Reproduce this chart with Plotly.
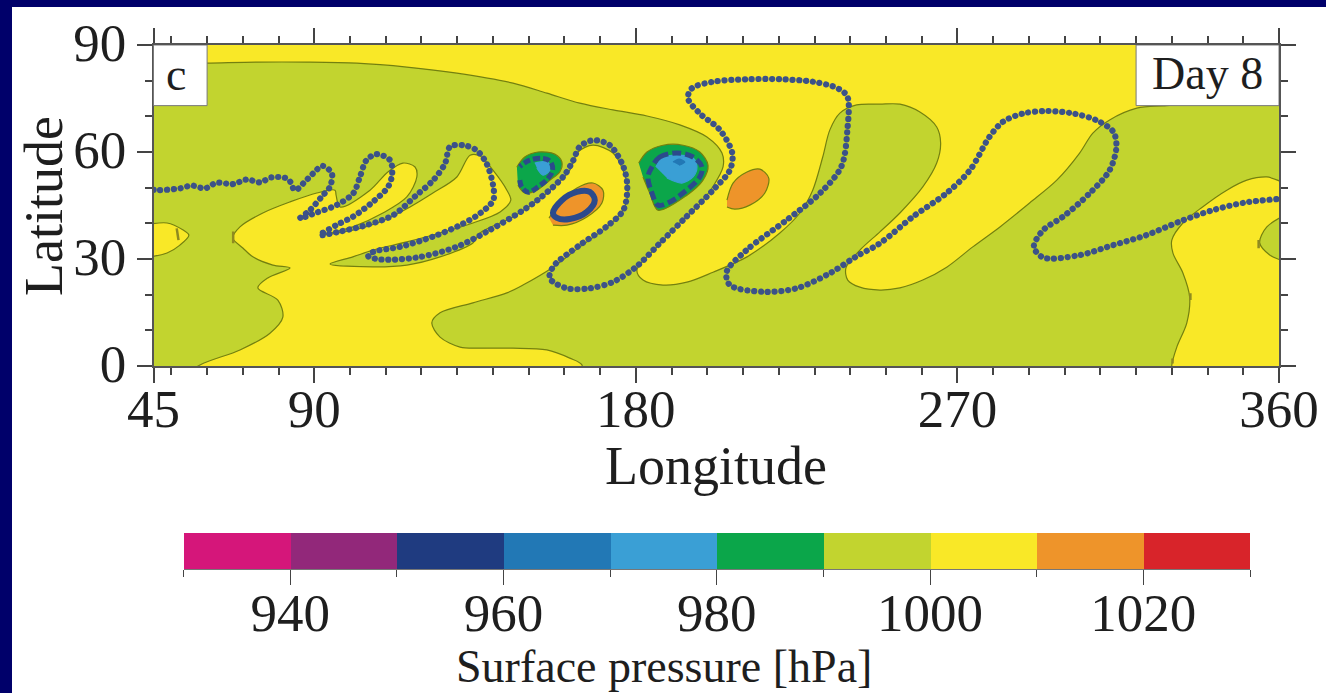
import plotly.graph_objects as go

FONT = "Liberation Serif"
INK = "#1e1e1e"
W, H = 1326, 693

# Surface pressure regions, (longitude, latitude)
green_lon = [40,60.0,74.0,87.9,101.9,115.9,129.9,145.6,155.1,164.3,173.6,183.1,192.3,199.9,204.1,204.4,201.5,197.1,192.3,185.9,180.3,182.0,187.6,194.3,201.6,211.1,220.3,225.9,229.5,232.3,234.3,237.1,241.8,248.3,253.9,259.5,264.2,265.3,264.2,260.3,253.9,248.3,242.7,238.8,239.3,242.7,248.3,253.9,260.3,267.0,274.3,281.9,290.2,297.8,304.2,307.9,312.6,320.2,327.5,365,365,356.6,351.0,345.4,338.6,333.1,330.0,330.3,333.1,335.0,334.2,331.4,330.0,330,165,164.9,161.5,155.1,145.6,136.4,130.8,125.2,122.9,125.2,134.4,143.9,148.4,156.8,164.3,171.9,176.4,177.8,176.4,173.6,168.0,163.8,161.5,155.1,145.6,136.4,134.4,125.2,115.9,106.4,94.4,100.8,106.4,115.9,125.2,134.4,142.0,145.0,143.9,140.0,136.4,133.6,129.9,123.2,116.8,108.4,100.8,92.1,100.8,109.2,115.9,118.7,118.2,114.8,110.6,105.6,97.2,96.1,95.8,90.7,83.2,75.6,69.2,67.2,70.0,72.8,78.4,83.2,77.0,74.2,79.8,81.2,77.6,69.2,58.0,50,40]
green_lat = [84.6,84.9,85.2,85.2,84.9,83.8,82.1,79.3,76.5,73.7,71.8,70.1,67.6,64.2,59.7,55.8,50.2,44.6,40.1,33.4,26.9,24.1,22.7,23.5,26.3,30.6,37.3,42.9,49.3,58.6,66.2,70.9,73.2,73.4,73.4,71.2,67.0,62.5,56.9,50.2,42.9,37.6,32.5,27.5,24.1,22.1,21.3,21.9,24.1,27.7,33.4,39.0,45.7,52.1,59.7,65.3,69.0,72.3,72.9,72.9,51,53.0,52.1,49.3,44.6,40.1,35.3,31.7,26.1,19.3,12.1,5.3,0.3,-5,-5,0.3,2.2,4.5,5.0,5.0,5.3,8.1,12.1,14.9,17.7,20.5,22.7,27.7,33.4,39.0,43.7,49.3,54.9,59.7,61.9,60.0,54.9,48.5,41.8,37.3,34.5,30.6,28.3,27.8,28.6,30.6,32.5,34.8,37.3,40.1,43.2,46.5,49.3,54.9,58.9,59.1,53.0,48.5,44.6,40.4,38.1,36.7,39.0,42.9,47.4,53.0,55.8,56.9,54.4,49.3,44.6,47.9,49.3,48.5,46.0,42.9,39.0,35.9,33.1,30.6,28.3,27.5,24.7,21.9,18.5,13.7,9.2,4.5,0.3,-5,-5]

green_isle_lon = [365,356.6,354.6,357.4,359.7,365]
green_isle_lat = [44,39.0,34.5,31.1,30.0,29]
yellow_isle_lon = [40,48.8,53.3,54.9,52.4,48.8,40]
yellow_isle_lat = [39,40.1,38.1,36.7,33.9,31.7,30]

orange1_lon = [155.7,158.7,163.5,168.0,170.8,170.5,166.3,160.7,156.8]
orange1_lat = [41.5,45.7,49.9,51.3,49.3,45.7,41.8,39.5,39.5]
orange2_lon = [205.5,207.2,211.1,214.7,217.2,216.1,211.9,207.7,205.5]
orange2_lat = [46.5,51.3,54.4,55.2,52.7,48.5,45.1,44.0,44.6]

low1_lon = [146.7,148.9,152.6,157.3,159.3,158.7,155.9,152.3,148.9,147.0]
low1_lat = [55.8,58.6,60.0,59.4,57.2,54.4,52.1,49.3,48.5,50.7]
low1_blue_lon = [151.7,155.4,155.9,154.0,152.3]
low1_blue_lat = [56.9,57.2,54.9,53.5,55.5]
low2_lon = [180.8,183.1,187.6,193.2,197.9,200.2,198.8,194.3,186.2,183.9,182.0]
low2_lat = [56.9,60.0,61.9,61.9,60.0,56.3,52.1,47.9,43.7,48.5,53.0]
low2_blue_lon = [185.6,187.3,191.5,196.0,197.1,196.0,192.9,188.7]
low2_blue_lat = [55.8,58.3,59.1,58.3,55.8,53.0,51.3,52.7]
low2_core_lon = [190.4,192.1,193.7,192.1]
low2_core_lat = [57.2,58.0,57.2,56.3]

# Small contour fragments along the yellow boundary
speck_lon = [51.5,52.0,None,67.3,67.3,None,335.2,335.2,None,330.2,330.2,None,354.3,354.3]
speck_lat = [38.6,35.3,None,37.7,34.4,None,20.4,18.5,None,2.1,0.7,None,35.3,33.0]

# Tracer contour
tracer_lon = [45,46.4,52.4,55.7,59.4,62.7,67.3,71.1,74.8,78.1,82.7,84.6,87.4,89.7,92.3,94.9,94.4,92.1,88.8,86.0,90.6,96.2,100.9,102.8,104.6,107.4,111.2,111.8,110.7,106.5,100.9,96.2,91.6,97.2,104.6,112.1,118.6,123.3,126.6,128.0,131.7,135.4,138.2,140.1,140.1,136.4,130.8,123.3,114.0,106.5,105.1,108.4,118.6,129.8,139.1,148.5,153.1,159.7,162.5,164.3,168.1,172.7,176.5,177.6,176.5,171.8,164.3,156.9,155.9,160.6,167.1,173.7,180.2,186.7,194.2,201.6,206.3,207.0,203.5,197.9,194.6,195.6,201.6,211.0,220.3,229.6,236.6,239.2,239.2,237.5,231.5,222.2,211.0,205.4,206.3,215.6,225.0,234.3,241.7,248.3,257.6,266.9,273.5,279.0,282.8,288.4,294.9,302.4,308.9,313.6,314.5,312.6,307.0,299.6,294.0,291.4,294.0,304.2,313.6,322.9,332.2,341.5,350.9,359.7]
tracer_lat = [49.4,49.3,49.8,50.6,49.8,51.4,51.0,52.3,51.5,52.9,52.4,49.3,51.7,54.0,56.1,54.0,50.3,47.5,43.7,41.4,43.0,45.1,48.4,53.1,57.7,59.4,57.7,54.0,50.3,46.1,41.9,39.5,36.7,37.7,39.5,42.3,47.9,52.1,56.8,61.5,61.9,60.5,56.8,50.3,46.5,42.8,39.5,36.3,33.4,32.0,30.8,29.9,30.4,33.4,38.1,43.7,47.0,53.1,57.7,61.5,63.3,61.9,55.9,50.3,43.7,39.1,33.9,27.9,24.6,21.8,21.8,23.6,27.9,34.4,41.9,49.3,54.9,59.6,66.2,70.8,75.0,77.8,79.7,80.4,80.4,79.7,77.8,75.5,66.2,55.9,48.4,40.9,32.5,26.4,22.7,20.8,21.8,26.0,30.7,34.4,41.9,48.4,54.9,64.3,68.5,70.8,71.5,70.8,68.9,65.7,61.5,54.9,48.4,41.9,38.1,33.4,30.4,31.1,33.9,36.7,40.5,43.7,45.9,46.8]
ring1_lon = [147.5,148.0,149.9,152.7,155.0,156.7,156.1,154.1,150.3,147.5]
ring1_lat = [52.1,50.3,48.7,50.3,52.1,54.9,57.3,58.2,57.7,55.9]
ring2_lon = [184.5,186.7,191.5,196.0,198.5,197.9,193.2,189.5,186.2,184.5,183.4,184.5]
ring2_lat = [55.8,58.6,59.7,58.6,55.8,53.0,48.5,46.0,45.1,48.5,53.0,55.8]
ring3_lon = [156.8,159.3,163.5,167.1,168.5,166.3,161.5,157.9,156.8]
ring3_lat = [42.9,46.5,48.8,48.8,46.5,43.2,41.2,41.5,42.9]

# Colour scale
bin_lower = [930,940,950,960,970,980,990,1000,1010,1020]
bin_colors = ["#d5167a","#92287a","#1f3b80","#2278b5","#3a9fd5","#0ba64a","#c2d42f","#f9e827","#ee942a","#d8242a"]
YELLOW, GREEN, ORANGE = bin_colors[7], bin_colors[6], bin_colors[8]
LOW_GREEN, LIGHT_BLUE, BLUE = bin_colors[5], bin_colors[4], bin_colors[3]
DOT = "#3c5288"
EDGE = "#74800f"

lon_major = [45,90,180,270,360]
lon_minor = [50,60,70,80,100,110,120,130,140,150,160,170,190,200,210,220,230,240,250,260,280,290,300,310,320,330,340,350]
lat_major = [0,30,60,90]
lat_minor = [10,20,40,50,70,80]
cb_major = [940,960,980,1000,1020]
cb_minor = [930,950,970,990,1010,1030]

fig = go.Figure()

def region(lon, lat, color, edge=EDGE):
    fig.add_trace(go.Scatter(x=lon, y=lat, mode="lines", fill="toself", fillcolor=color,
                             line=dict(color=edge, width=1.2, shape="spline", smoothing=0.9),
                             hoverinfo="skip", showlegend=False))

region(green_lon, green_lat, GREEN)
region(green_isle_lon, green_isle_lat, GREEN)
region(yellow_isle_lon, yellow_isle_lat, YELLOW)
region(orange1_lon, orange1_lat, ORANGE)
region(orange2_lon, orange2_lat, ORANGE)
region(low1_lon, low1_lat, LOW_GREEN)
region(low1_blue_lon, low1_blue_lat, LIGHT_BLUE, LIGHT_BLUE)
region(low2_lon, low2_lat, LOW_GREEN)
region(low2_blue_lon, low2_blue_lat, LIGHT_BLUE, LIGHT_BLUE)
region(low2_core_lon, low2_core_lat, BLUE, BLUE)

fig.add_trace(go.Scatter(x=speck_lon, y=speck_lat, mode="lines", hoverinfo="skip", showlegend=False,
                         line=dict(color="#8f8a20", width=2.5)))
fig.add_trace(go.Scatter(x=tracer_lon, y=tracer_lat, mode="lines", hoverinfo="skip", showlegend=False,
                         line=dict(color=DOT, width=6.2, shape="spline", smoothing=0.9, dash="0.1px,6.7px")))
for rx, ry, dash, lw in [(ring1_lon, ring1_lat, "7px,3px", 5), (ring2_lon, ring2_lat, "9px,4px", 5), (ring3_lon, ring3_lat, "solid", 6)]:
    fig.add_trace(go.Scatter(x=rx, y=ry, mode="lines", hoverinfo="skip", showlegend=False,
                             line=dict(color="#2b4a8c", width=lw, shape="spline", smoothing=1, dash=dash)))

fig.add_trace(go.Bar(x=[b + 5 for b in bin_lower], y=[1] * len(bin_lower), width=10,
                     marker=dict(color=bin_colors, line=dict(width=0)),
                     xaxis="x2", yaxis="y2", hoverinfo="skip", showlegend=False))

axis_common = dict(showgrid=False, zeroline=False, showline=True, linecolor="#555555", linewidth=1.5,
                   automargin=False, ticks="outside", tickcolor="#444444", tickwidth=1.5, ticklen=15,
                   tickfont=dict(family=FONT, size=53, color=INK))
minor_x = dict(tickmode="array", tickvals=lon_minor, ticks="outside", ticklen=7, tickcolor="#444444", tickwidth=1.5)
minor_y = dict(tickmode="array", tickvals=lat_minor, ticks="outside", ticklen=7, tickcolor="#444444", tickwidth=1.5)

fig.update_layout(
    width=W, height=H, margin=dict(l=0, r=0, t=0, b=0), autosize=False,
    paper_bgcolor="#00006a", bargap=0, showlegend=False,
    font=dict(family=FONT, color=INK),
    xaxis=dict(domain=[153.5 / W, 1279 / W], range=[45, 360], tickmode="array", tickvals=lon_major,
               mirror="ticks", minor=minor_x, ticklabelstandoff=-19, **axis_common),
    yaxis=dict(domain=[1 - 366 / H, 1 - 45 / H], range=[0, 90], tickmode="array", tickvals=lat_major,
               mirror="ticks", minor=minor_y, ticklabelshift=-3, **axis_common),
    xaxis2=dict(domain=[183.5 / W, 1250 / W], range=[930, 1030], anchor="y2", tickmode="array", tickvals=cb_major,
                minor=dict(tickmode="array", tickvals=cb_minor, ticks="outside", ticklen=7, tickcolor="#444444", tickwidth=1.2),
                automargin=False, showgrid=False, zeroline=False, showline=True, linecolor="#777777", linewidth=1,
                ticks="outside", tickcolor="#444444", tickwidth=1.2, ticklen=15, ticklabelstandoff=-18,
                tickfont=dict(family=FONT, size=53, color=INK)),
    yaxis2=dict(domain=[1 - 569 / H, 1 - 533 / H], range=[0, 1], anchor="x2", visible=False),
    shapes=[
        dict(type="rect", xref="paper", yref="paper", x0=12 / W, x1=1, y0=0, y1=1 - 7 / H,
             fillcolor="white", line=dict(width=0), layer="below"),
        dict(type="rect", xref="x", yref="y", x0=45, x1=360, y0=0, y1=90,
             fillcolor=YELLOW, line=dict(width=0), layer="below"),
        dict(type="rect", xref="x", yref="y", x0=45, x1=60, y0=73, y1=90, fillcolor="white",
             line=dict(color="#777777", width=1), layer="above"),
        dict(type="rect", xref="x", yref="y", x0=320, x1=360, y0=73, y1=90, fillcolor="white",
             line=dict(color="#777777", width=1), layer="above"),
    ],
    annotations=[
        dict(text="c", xref="x", yref="y", x=51.3, y=81.8, showarrow=False, font=dict(family=FONT, size=46, color=INK)),
        dict(text="Day 8", xref="x", yref="y", x=340, y=82, showarrow=False, font=dict(family=FONT, size=46, color=INK)),
        dict(text="Longitude", xref="paper", yref="paper", x=716 / W, y=1 - 466 / H, xanchor="center", yanchor="middle",
             showarrow=False, font=dict(family=FONT, size=54, color=INK)),
        dict(text="Latitude", xref="paper", yref="paper", x=44 / W, y=1 - 206 / H, xanchor="center", yanchor="middle",
             textangle=-90, showarrow=False, font=dict(family=FONT, size=54, color=INK)),
        dict(text="Surface pressure [hPa]", xref="paper", yref="paper", x=664 / W, y=1 - 666 / H, xanchor="center", yanchor="middle",
             showarrow=False, font=dict(family=FONT, size=46, color=INK)),
    ],
)

round_dots = """
document.querySelectorAll('path.js-line').forEach(function (p) {
  if ((p.style.strokeDasharray || '').indexOf('0.1') === 0) { p.style.strokeLinecap = 'round'; }
});
document.body.style.margin = '0';
"""
fig.write_html("out.html", post_script=round_dots, config={"displayModeBar": False})
